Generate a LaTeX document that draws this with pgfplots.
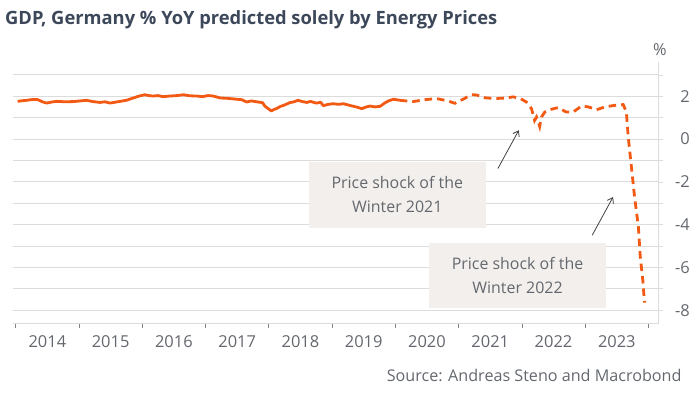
\documentclass[border=0pt]{standalone}
\usepackage{fontspec}
\setmainfont{Open Sans}
\usepackage{pgfplots}
\pgfplotsset{compat=1.18}
\usetikzlibrary{arrows.meta}
\definecolor{lineor}{RGB}{242,90,20}
\definecolor{titlecol}{RGB}{60,72,90}
\definecolor{labgray}{RGB}{100,104,110}
\definecolor{gridgray}{RGB}{220,220,220}
\definecolor{boxfill}{RGB}{242,239,236}
\definecolor{arrowcol}{RGB}{64,64,64}
\begin{document}
\begin{tikzpicture}
\useasboundingbox (-13.5bp,-71bp) rectangle (680.5bp,323bp);
\begin{axis}[
  at={(0,0)}, anchor=south west,
  scale only axis, width=645bp, height=261bp,
  xmin=2013.965, xmax=2024.158,
  ymin=-8.6, ymax=3.6,
  axis x line*=bottom, axis y line*=right,
  axis line style={-, draw=gridgray, line width=0.8bp},
  xtick={2014,...,2024},
  x tick label as interval,
  xticklabels={2014,2015,2016,2017,2018,2019,2020,2021,2022,2023},
  ytick={-8,...,3},
  yticklabels={-8,,-6,,-4,,-2,,0,,2,},
  ymajorgrids, grid style={draw=gridgray, line width=0.8bp},
  tick align=outside,
  major tick length=4.5bp,
  tick style={draw=labgray!80, line width=0.6bp},
  ytick style={draw=gridgray},
  tick label style={font=\fontsize{16.5}{19}\selectfont, text=labgray},
  xticklabel style={yshift=-5bp},
  yticklabel style={anchor=east, inner xsep=0pt, xshift=27bp},
  /pgf/number format/assume math mode=true,
  clip=false,
]
\addplot[lineor, line width=2.8bp, line join=round] table {
2014.03 1.76
2014.10 1.79
2014.15 1.80
2014.22 1.83
2014.28 1.85
2014.35 1.84
2014.42 1.74
2014.49 1.68
2014.57 1.73
2014.65 1.76
2014.78 1.74
2014.91 1.75
2015.02 1.78
2015.12 1.81
2015.22 1.75
2015.33 1.71
2015.41 1.74
2015.49 1.68
2015.57 1.72
2015.65 1.76
2015.75 1.81
2015.83 1.89
2015.94 2.00
2016.04 2.07
2016.10 2.03
2016.17 2.01
2016.25 2.03
2016.33 1.98
2016.44 2.01
2016.55 2.03
2016.65 2.07
2016.75 2.02
2016.86 2.01
2016.95 1.98
2017.04 2.03
2017.12 2.01
2017.23 1.92
2017.35 1.90
2017.49 1.86
2017.57 1.84
2017.65 1.73
2017.72 1.78
2017.83 1.73
2017.90 1.70
2017.94 1.53
2018.00 1.40
2018.04 1.31
2018.08 1.38
2018.12 1.42
2018.18 1.52
2018.23 1.57
2018.28 1.63
2018.33 1.70
2018.40 1.74
2018.46 1.81
2018.53 1.75
2018.60 1.71
2018.66 1.76
2018.72 1.70
2018.76 1.68
2018.82 1.72
2018.86 1.56
2018.94 1.62
2019.02 1.65
2019.10 1.62
2019.18 1.65
2019.28 1.57
2019.38 1.50
2019.47 1.42
2019.54 1.50
2019.60 1.54
2019.68 1.50
2019.76 1.53
2019.83 1.68
2019.89 1.78
2019.97 1.86
2020.07 1.81
};
\addplot[lineor, line width=2.8bp, dash pattern=on 7.5bp off 5bp] table {
2020.07 1.81
2020.28 1.75
2020.47 1.84
2020.65 1.89
2020.83 1.78
2020.94 1.67
2021.07 1.86
2021.20 2.07
2021.28 2.06
2021.41 1.93
2021.57 1.89
2021.76 1.92
2021.86 1.97
2021.97 1.90
2022.07 1.73
2022.15 1.42
2022.18 1.11
2022.20 0.87
2022.23 1.03
2022.26 0.79
2022.28 0.59
2022.31 1.03
2022.36 1.26
2022.44 1.37
2022.57 1.47
2022.70 1.26
2022.81 1.26
2022.94 1.54
2023.05 1.50
2023.18 1.37
2023.31 1.50
2023.46 1.57
2023.60 1.61
2023.65 1.26
2023.68 0.09
2023.73 -1.31
2023.78 -2.71
2023.84 -4.11
2023.87 -5.51
2023.91 -6.60
2023.93 -7.38
2023.94 -7.65
};
\node[fill=boxfill, minimum width=177bp, minimum height=65.5bp, inner sep=0pt,
  align=center, text=labgray, font=\fontsize{16}{24}\selectfont]
  at (axis cs:2020.03,-2.61) {Price shock of the\\Winter 2021};
\node[fill=boxfill, minimum width=177bp, minimum height=65bp, inner sep=0pt,
  align=center, text=labgray, font=\fontsize{16}{24}\selectfont]
  at (axis cs:2021.93,-6.36) {Price shock of the\\Winter 2022};
\draw[arrowcol, line width=0.8bp, -{Straight Barb[length=5bp,width=7bp]}]
  (axis cs:2021.62,-1.38) -- (axis cs:2021.95,0.41);
\draw[arrowcol, line width=0.8bp, -{Straight Barb[length=5bp,width=7bp]}]
  (axis cs:2023.11,-4.50) -- (axis cs:2023.44,-2.71);
\end{axis}
\node[anchor=base west, inner sep=0pt, text=titlecol, font=\fontsize{18.4}{22}\selectfont\bfseries]
  at (-8.5bp,298bp) {GDP, Germany \% YoY predicted solely by Energy Prices};
\node[inner sep=0pt, text=labgray, font=\fontsize{16.5}{19}\selectfont] at (646.5bp,273bp) {\%};
\node[anchor=base east, inner sep=0pt, text=labgray, font=\fontsize{16.2}{19}\selectfont]
  at (668.2bp,-58.7bp) {Source: Andreas Steno and Macrobond};
\end{tikzpicture}
\end{document}
